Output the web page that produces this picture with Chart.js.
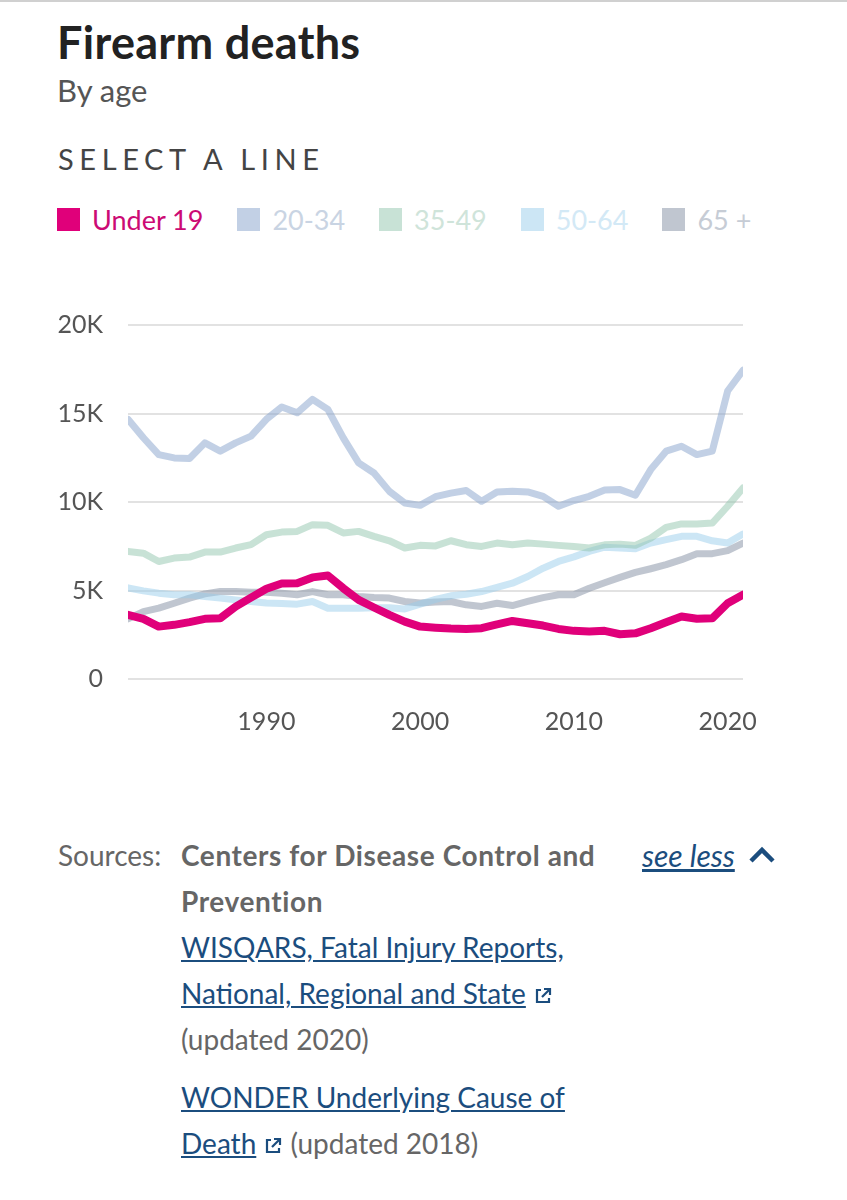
<!DOCTYPE html>
<html>
<head>
<meta charset="utf-8">
<script src="https://cdn.jsdelivr.net/npm/chart.js@4.4.1/dist/chart.umd.min.js"></script>
<style>
  html, body { margin: 0; padding: 0; background: #fff; }
  body { width: 847px; height: 1200px; position: relative; overflow: hidden;
         font-family: Lato, "Noto Sans", sans-serif; border-top: 2px solid #d0d0d0; box-sizing: border-box; }
  .abs { position: absolute; white-space: nowrap; }
  #title { left: 57px; top: 13px; font-size: 45px; font-weight: 700; color: #222; letter-spacing: 0.3px; }
  #subtitle { left: 57px; top: 69px; font-size: 31px; color: #555; }
  #select { left: 58px; top: 139px; font-size: 29px; letter-spacing: 5.6px; color: #444; }
  #legend { left: 57px; top: 201px; display: flex; align-items: center; }
  .item { display: flex; align-items: center; margin-right: 34px; font-size: 27px; }
  .item .box { width: 23px; height: 23px; margin-right: 12px; }
  #chartWrap { left: 0; top: 283px; width: 847px; height: 477px; }
  #sources { left: 58px; top: 830px; font-size: 28px; line-height: 46px; color: #666; }
  #sources .lab { position: absolute; left: 0; top: 0; }
  #sources .body { position: absolute; left: 123px; top: 0; width: 440px; white-space: normal; }
  #sources b { color: #666; font-weight: 700; letter-spacing: 0.6px; }
  #sources a { color: #1b4d7e; text-decoration: underline; }
  #seeless { left: 642px; top: 830px; font-size: 30px; line-height: 46px; color: #1b4d7e; font-style: italic; }
  #seeless span { text-decoration: underline; }
  svg.ext { width: 20px; height: 20px; vertical-align: -2px; }
</style>
</head>
<body>
<div id="title" class="abs">Firearm deaths</div>
<div id="subtitle" class="abs">By age</div>
<div id="select" class="abs">SELECT A LINE</div>
<div id="legend" class="abs"></div>
<div id="chartWrap" class="abs"><canvas id="chart"></canvas></div>
<div id="sources" class="abs">
  <div class="lab">Sources:</div>
  <div class="body">
    <b>Centers for Disease Control and Prevention</b><br>
    <a>WISQARS, Fatal Injury Reports, National, Regional and State</a>
    <svg class="ext" viewBox="0 0 20 20"><path d="M8 4H4v12h12v-4M11 3h6v6M17 3l-8 8" fill="none" stroke="#1b4d7e" stroke-width="2.2"/></svg><br>
    (updated 2020)<br>
    <div style="height:12px"></div>
    <a>WONDER Underlying Cause of Death</a>
    <svg class="ext" viewBox="0 0 20 20"><path d="M8 4H4v12h12v-4M11 3h6v6M17 3l-8 8" fill="none" stroke="#1b4d7e" stroke-width="2.2"/></svg> (updated 2018)
  </div>
</div>
<div id="seeless" class="abs"><span>see less</span>
  <svg width="28" height="20" viewBox="0 0 28 20" style="vertical-align:2px;margin-left:6px"><path d="M3 16L14 5l11 11" fill="none" stroke="#1b4d7e" stroke-width="4.5"/></svg></div>

<script>
const years = [];
for (let y = 1981; y <= 2021; y++) years.push(y);

const seriesNames = ["Under 19", "20-34", "35-49", "50-64", "65 +"];

// deaths, in thousands
const under19 = [3.62, 3.40, 2.96, 3.06, 3.21, 3.40, 3.43, 4.09, 4.60, 5.10,
  5.40, 5.41, 5.74, 5.85, 5.13, 4.47, 4.04, 3.62, 3.24, 2.96,
  2.90, 2.85, 2.83, 2.87, 3.09, 3.28, 3.15, 3.02, 2.83, 2.72,
  2.68, 2.72, 2.53, 2.58, 2.87, 3.21, 3.53, 3.40, 3.43, 4.28, 4.76];
const age20to34 = [14.67, 13.63, 12.68, 12.49, 12.46, 13.34, 12.87, 13.34, 13.72, 14.67,
  15.37, 15.04, 15.80, 15.23, 13.62, 12.21, 11.64, 10.60, 9.94, 9.81,
  10.30, 10.50, 10.65, 10.04, 10.57, 10.61, 10.57, 10.32, 9.76, 10.08,
  10.32, 10.68, 10.70, 10.38, 11.83, 12.87, 13.15, 12.68, 12.87, 16.27, 17.44];
const age35to49 = [7.21, 7.11, 6.64, 6.83, 6.89, 7.17, 7.17, 7.40, 7.59, 8.15,
  8.30, 8.34, 8.72, 8.68, 8.25, 8.34, 8.06, 7.81, 7.40, 7.55,
  7.52, 7.81, 7.59, 7.49, 7.68, 7.59, 7.68, 7.62, 7.55, 7.49,
  7.40, 7.58, 7.62, 7.55, 7.96, 8.57, 8.76, 8.76, 8.81, 9.76, 10.79];
const age50to64 = [5.15, 4.98, 4.85, 4.76, 4.76, 4.66, 4.57, 4.47, 4.38, 4.30,
  4.26, 4.23, 4.38, 4.00, 4.00, 4.00, 4.02, 4.02, 3.96, 4.23,
  4.50, 4.70, 4.79, 4.94, 5.17, 5.41, 5.79, 6.26, 6.64, 6.90,
  7.21, 7.45, 7.40, 7.36, 7.68, 7.87, 8.06, 8.06, 7.81, 7.68, 8.19];
const age65plus = [3.40, 3.81, 4.00, 4.28, 4.57, 4.81, 4.94, 4.94, 4.90, 4.90,
  4.85, 4.76, 4.94, 4.76, 4.76, 4.66, 4.60, 4.57, 4.38, 4.30,
  4.35, 4.38, 4.19, 4.10, 4.28, 4.15, 4.38, 4.60, 4.76, 4.76,
  5.13, 5.44, 5.74, 6.02, 6.23, 6.46, 6.74, 7.08, 7.08, 7.25, 7.68];

const yTicks = [0, 5000, 10000, 15000, 20000];
const xTicks = [1990, 2000, 2010, 2020];

const allValues = [under19, age20to34, age35to49, age50to64, age65plus];
const lineColors = ["#e0007a", "rgba(133,161,203,0.5)", "rgba(145,197,173,0.5)",
  "rgba(153,205,235,0.5)", "rgba(129,141,161,0.5)"];
const boxColors = ["#e0007a", "#c2d0e5", "#c8e2d6", "#cce6f5", "#c0c6d0"];
const textColors = ["#cc0a74", "#c9d4e3", "#cfe4da", "#d3e9f6", "#c6ccd5"];
const widths = [8, 7, 7, 7, 7];

// legend
const legend = document.getElementById("legend");
seriesNames.forEach((name, i) => {
  legend.innerHTML += `<div class="item" style="color:${textColors[i]}">
    <div class="box" style="background:${boxColors[i]}"></div>${name}</div>`;
});

const datasets = seriesNames.map((name, i) => ({
  label: name,
  data: years.map((yr, j) => ({ x: yr, y: allValues[i][j] * 1000 })),
  borderColor: lineColors[i],
  borderWidth: widths[i],
  pointRadius: 0,
  tension: 0,
  borderCapStyle: "round",
  borderJoinStyle: "round",
  fill: false
}));

new Chart(document.getElementById("chart"), {
  type: "line",
  data: { datasets },
  options: {
    responsive: true,
    maintainAspectRatio: false,
    animation: false,
    layout: { padding: { top: 7, right: 104, left: 0, bottom: 0 } },
    plugins: { legend: { display: false }, tooltip: { enabled: false } },
    scales: {
      x: {
        type: "linear",
        min: 1981,
        max: 2021,
        afterBuildTicks: s => { s.ticks = xTicks.map(v => ({ value: v })); },
        afterFit: s => { s.height = 83; },
        grid: { display: false },
        border: { display: false },
        ticks: { padding: 20, color: "#555", font: { family: "Lato", size: 25 }, callback: v => String(v) }
      },
      y: {
        min: 0,
        max: 20000,
        afterBuildTicks: s => { s.ticks = yTicks.map(v => ({ value: v })); },
        afterFit: s => { s.width = 128; },
        grid: { color: "#e2e2e2", lineWidth: 2, drawTicks: false },
        border: { display: false },
        ticks: { padding: 25, color: "#555", font: { family: "Lato", size: 25 },
          callback: v => v === 0 ? "0" : (v / 1000) + "K" }
      }
    }
  }
});
</script>
</body>
</html>
